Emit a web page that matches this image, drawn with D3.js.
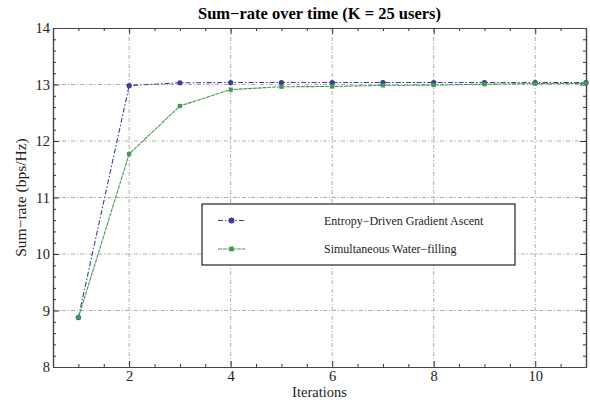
<!DOCTYPE html>
<html>
<head>
<meta charset="utf-8">
<script src="https://cdn.jsdelivr.net/npm/d3@7"></script>
<style>
  body { margin: 0; background: #fff; }
  text { font-family: "Liberation Serif", "Times New Roman", serif; }
</style>
</head>
<body>
<svg id="chart" width="590" height="405"></svg>
<script>
var iterations = [1, 2, 3, 4, 5, 6, 7, 8, 9, 10, 11]
var entropy = [8.875, 12.98, 13.03, 13.035, 13.035, 13.035, 13.035, 13.035, 13.035, 13.035, 13.035]
var waterfill = [8.875, 11.77, 12.62, 12.91, 12.96, 12.965, 12.985, 12.99, 13.005, 13.015, 13.02]
var seriesNames = ["Entropy\u2212Driven Gradient Ascent", "Simultaneous Water\u2212filling"]
var xTicks = [2, 4, 6, 8, 10]
var yTicks = [8, 9, 10, 11, 12, 13, 14]

var svg = d3.select("#chart"),
    margin = { top: 28, left: 53, bottom: 38, right: 4 },
    width = +svg.attr("width"),
    height = +svg.attr("height");

var x = d3.scaleLinear().domain([0.5, 11]).range([margin.left, width - margin.right])
var y = d3.scaleLinear().domain([8, 14]).range([height - margin.bottom, margin.top])

var gridStyle = "#999"

// grid
svg.append("g").selectAll("line").data(xTicks).enter().append("line")
    .attr("x1", d => x(d)).attr("x2", d => x(d))
    .attr("y1", y(14)).attr("y2", y(8))
    .attr("stroke", gridStyle).attr("stroke-width", 0.8)
    .attr("stroke-dasharray", "4,2,1,2")
svg.append("g").selectAll("line").data(yTicks.slice(1, -1)).enter().append("line")
    .attr("x1", x(0.5)).attr("x2", x(11))
    .attr("y1", d => y(d)).attr("y2", d => y(d))
    .attr("stroke", gridStyle).attr("stroke-width", 0.8)
    .attr("stroke-dasharray", "4,2,1,2")

// frame ticks (inside, on all sides)
var xMinor = d3.range(1, 11.01, 0.5).filter(v => xTicks.indexOf(v) < 0)
var yMinor = d3.range(8, 14.001, 0.2).map(v => +v.toFixed(1)).filter(v => yTicks.indexOf(v) < 0)

function frameAxes() {
    svg.append("g").attr("transform", `translate(0,${y(8)})`)
        .call(d3.axisBottom(x).tickValues(xTicks).tickSizeInner(-6).tickSizeOuter(0).tickPadding(4).tickFormat(d3.format("d")))
    svg.append("g").attr("transform", `translate(0,${y(14)})`)
        .call(d3.axisTop(x).tickValues(xTicks).tickSizeInner(-6).tickSizeOuter(0).tickFormat(""))
    svg.append("g").attr("transform", `translate(${x(0.5)},0)`)
        .call(d3.axisLeft(y).tickValues(yTicks).tickSizeInner(-6).tickSizeOuter(0).tickPadding(3).tickFormat(d3.format("d")))
    svg.append("g").attr("transform", `translate(${x(11)},0)`)
        .call(d3.axisRight(y).tickValues(yTicks).tickSizeInner(-6).tickSizeOuter(0).tickFormat(""))

    svg.append("g").attr("transform", `translate(0,${y(8)})`)
        .call(d3.axisBottom(x).tickValues(xMinor).tickSize(-3).tickSizeOuter(0).tickFormat(""))
    svg.append("g").attr("transform", `translate(0,${y(14)})`)
        .call(d3.axisTop(x).tickValues(xMinor).tickSize(-3).tickSizeOuter(0).tickFormat(""))
    svg.append("g").attr("transform", `translate(${x(0.5)},0)`)
        .call(d3.axisLeft(y).tickValues(yMinor).tickSize(-3).tickSizeOuter(0).tickFormat(""))
    svg.append("g").attr("transform", `translate(${x(11)},0)`)
        .call(d3.axisRight(y).tickValues(yMinor).tickSize(-3).tickSizeOuter(0).tickFormat(""))

    svg.selectAll(".domain").attr("stroke", "#444").attr("stroke-width", 1.2)
    svg.selectAll(".tick line").attr("stroke", "#333")
    svg.selectAll(".tick text").attr("font-size", 14.5).attr("fill", "#222")
        .style("font-family", "Liberation Serif, serif")
}
frameAxes()

var blue = "#3c3ca0", green = "#3f9b52"

var line = d3.line().x((d, i) => x(iterations[i])).y(d => y(d))

function drawSeries(values, color, dash, shape) {
    svg.append("path").datum(values)
        .attr("d", line).attr("fill", "none")
        .attr("stroke", color).attr("stroke-width", 1.1)
        .attr("stroke-dasharray", dash)
    var sym = d3.symbol().type(shape).size(shape === d3.symbolCircle ? 22 : 18)
    svg.append("g").selectAll("path").data(values).enter().append("path")
        .attr("d", sym)
        .attr("transform", (d, i) => `translate(${x(iterations[i])},${y(d)})`)
        .attr("fill", color)
}
drawSeries(entropy, blue, "5,2,1.5,2", d3.symbolCircle)
drawSeries(waterfill, green, "4,0.8", d3.symbolSquare)

// legend
var lg = svg.append("g")
lg.append("rect").attr("x", 202).attr("y", 204).attr("width", 313).attr("height", 61)
    .attr("fill", "#fff").attr("stroke", "#111").attr("stroke-width", 1.1)
var legendItems = [
    { name: seriesNames[0], color: blue, dash: "5,2,1.5,2", shape: d3.symbolCircle, y: 220.5 },
    { name: seriesNames[1], color: green, dash: "4,0.8", shape: d3.symbolSquare, y: 249 }
]
legendItems.forEach(function (it) {
    lg.append("line").attr("x1", 218).attr("x2", 245).attr("y1", it.y).attr("y2", it.y)
        .attr("stroke", it.color).attr("stroke-width", 1.1).attr("stroke-dasharray", it.dash)
    lg.append("path").attr("d", d3.symbol().type(it.shape).size(it.shape === d3.symbolCircle ? 28 : 22))
        .attr("transform", `translate(231.5,${it.y})`).attr("fill", it.color)
    lg.append("text").attr("x", 324).attr("y", it.y).attr("dy", "0.35em")
        .attr("font-size", 12).attr("fill", "#222")
        .text(it.name)
})

// title and labels
svg.append("text").attr("x", (x(0.5) + x(11)) / 2).attr("y", 19)
    .attr("text-anchor", "middle").attr("font-size", 16.5).attr("font-weight", "bold")
    .text("Sum\u2212rate over time (K = 25 users)")
svg.append("text").attr("x", (x(0.5) + x(11)) / 2).attr("y", 397)
    .attr("text-anchor", "middle").attr("font-size", 14.5).attr("fill", "#222")
    .text("Iterations")
svg.append("text")
    .attr("transform", `translate(26,${(y(8) + y(14)) / 2}) rotate(-90)`)
    .attr("text-anchor", "middle").attr("font-size", 15.5).attr("fill", "#222")
    .text("Sum\u2212rate (bps/Hz)")
</script>
</body>
</html>
